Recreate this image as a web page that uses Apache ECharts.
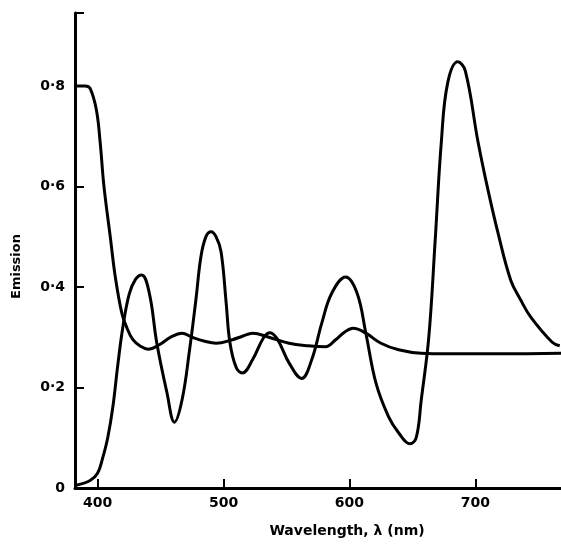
<!DOCTYPE html>
<html>
<head>
<meta charset="utf-8">
<style>
  html, body { margin: 0; padding: 0; background: #fff; }
  #chart { width: 561px; height: 550px; }
</style>
<script src="https://cdn.jsdelivr.net/npm/echarts@6/dist/echarts.min.js"></script>
</head>
<body>
<div id="chart"></div>
<script>
// curve that starts high (0.8) and levels off near 0.27
const wavelengthA = [382, 390, 394, 399, 402, 405, 410, 414, 419, 423, 428, 434, 440, 449, 458, 467, 475, 485, 494, 507, 515, 523, 536, 552, 567, 581, 589, 596, 603, 613, 625, 639, 657, 678, 720, 768];
const emissionA = [0.80, 0.80, 0.795, 0.752, 0.687, 0.60, 0.50, 0.42, 0.35, 0.32, 0.295, 0.282, 0.276, 0.285, 0.30, 0.308, 0.30, 0.292, 0.288, 0.295, 0.302, 0.308, 0.30, 0.288, 0.283, 0.281, 0.295, 0.31, 0.318, 0.308, 0.288, 0.275, 0.268, 0.267, 0.267, 0.268];

// oscillating curve with the big peak near 690 nm
const wavelengthB = [382, 394, 400, 404, 408, 412, 416, 420, 425, 430, 435, 441, 447, 455, 461, 467, 473, 478, 482, 486, 490, 494, 498, 502, 505, 510, 515, 523, 532, 537, 543, 552, 562, 570, 578, 586, 597, 606, 613, 621, 631, 639, 648, 653, 657, 663, 668, 673, 678, 686, 692, 702, 710, 718, 728, 736, 744, 761, 767];
const emissionB = [0.005, 0.015, 0.03, 0.06, 0.10, 0.16, 0.245, 0.32, 0.385, 0.415, 0.424, 0.388, 0.288, 0.19, 0.131, 0.175, 0.275, 0.374, 0.46, 0.50, 0.51, 0.50, 0.47, 0.37, 0.29, 0.24, 0.229, 0.255, 0.30, 0.309, 0.295, 0.249, 0.218, 0.255, 0.328, 0.388, 0.42, 0.388, 0.308, 0.209, 0.142, 0.11, 0.088, 0.10, 0.175, 0.30, 0.49, 0.69, 0.806, 0.848, 0.83, 0.69, 0.593, 0.507, 0.414, 0.374, 0.34, 0.29, 0.283];

const xTicks = [400, 500, 600, 700];
const yTicks = [0, 0.2, 0.4, 0.6, 0.8];
const yTop = 0.945;

(function () {
  const chart = echarts.init(document.getElementById('chart'));
  const font = 'DejaVu Sans';

  const pairs = (xs, ys) => xs.map((x, i) => [x, ys[i]]);

  const option = {
    animation: false,
    grid: { left: 75, right: 0, top: 13, bottom: 62, outerBoundsMode: 'none' },
    xAxis: {
      type: 'value',
      min: 382,
      max: 768,
      name: 'Wavelength, \u03bb (nm)',
      nameLocation: 'middle',
      nameGap: 36,
      nameTextStyle: { fontFamily: font, fontWeight: 'bold', fontSize: 14, color: '#000', padding: [0, 0, 0, 58] },
      axisLine: { lineStyle: { color: '#000', width: 3 } },
      axisTick: { inside: true, length: 9, customValues: xTicks, lineStyle: { color: '#000', width: 2 } },
      axisLabel: { customValues: xTicks, margin: 8, fontFamily: font, fontWeight: 'bold', fontSize: 14, color: '#000' },
      splitLine: { show: false }
    },
    yAxis: {
      type: 'value',
      min: 0,
      max: yTop,
      name: 'Emission',
      nameLocation: 'middle',
      nameGap: 52,
      nameTextStyle: { fontFamily: font, fontWeight: 'bold', fontSize: 13, color: '#000', padding: [0, 32, 0, 0] },
      axisLine: { lineStyle: { color: '#000', width: 3 } },
      axisTick: { inside: true, length: 9, customValues: yTicks.slice(1).concat([yTop]), lineStyle: { color: '#000', width: 2 } },
      axisLabel: {
        customValues: yTicks,
        margin: 10,
        fontFamily: font,
        fontWeight: 'bold',
        fontSize: 14,
        color: '#000',
        formatter: (v) => (v === 0 ? '0' : v.toFixed(1).replace('.', '\u00b7'))
      },
      splitLine: { show: false }
    },
    series: [
      {
        type: 'line',
        data: pairs(wavelengthA, emissionA),
        smooth: 0.4,
        showSymbol: false,
        lineStyle: { color: '#000', width: 3 }
      },
      {
        type: 'line',
        data: pairs(wavelengthB, emissionB),
        smooth: 0.4,
        showSymbol: false,
        lineStyle: { color: '#000', width: 3 }
      }
    ]
  };

  chart.setOption(option);
  window.addEventListener('resize', () => chart.resize());
})();
</script>
</body>
</html>
